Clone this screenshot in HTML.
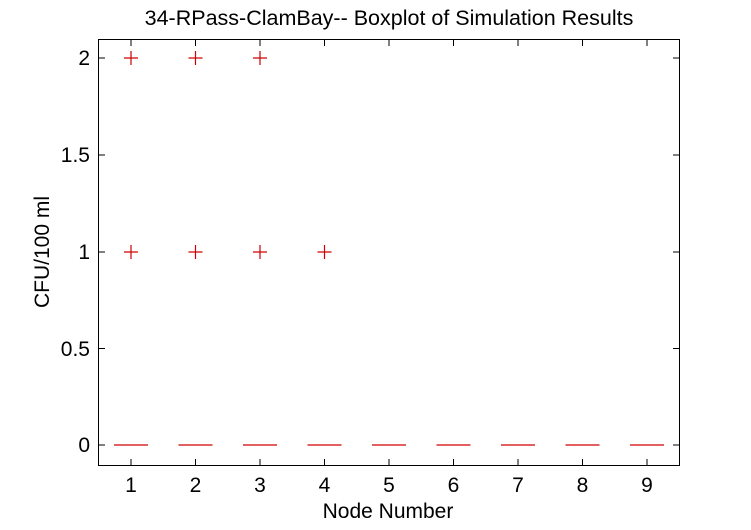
<!DOCTYPE html>
<html><head><style>body{margin:0;background:#fff}</style></head><body>
<svg width="751" height="525" xmlns="http://www.w3.org/2000/svg" font-family="Liberation Sans, sans-serif">
<rect width="751" height="525" fill="#fff"/>
<text x="389" y="25" font-size="21.5" text-anchor="middle">34-RPass-ClamBay-- Boxplot of Simulation Results</text>
<rect x="98.5" y="39.5" width="581" height="426" fill="none" stroke="#000"/>
<g stroke="#000">
<line x1="131" y1="465" x2="131" y2="459"/><line x1="131" y1="40" x2="131" y2="46"/>
<line x1="195.5" y1="465" x2="195.5" y2="459"/><line x1="195.5" y1="40" x2="195.5" y2="46"/>
<line x1="260" y1="465" x2="260" y2="459"/><line x1="260" y1="40" x2="260" y2="46"/>
<line x1="324.5" y1="465" x2="324.5" y2="459"/><line x1="324.5" y1="40" x2="324.5" y2="46"/>
<line x1="389" y1="465" x2="389" y2="459"/><line x1="389" y1="40" x2="389" y2="46"/>
<line x1="453.5" y1="465" x2="453.5" y2="459"/><line x1="453.5" y1="40" x2="453.5" y2="46"/>
<line x1="518" y1="465" x2="518" y2="459"/><line x1="518" y1="40" x2="518" y2="46"/>
<line x1="582.5" y1="465" x2="582.5" y2="459"/><line x1="582.5" y1="40" x2="582.5" y2="46"/>
<line x1="647" y1="465" x2="647" y2="459"/><line x1="647" y1="40" x2="647" y2="46"/>
<line x1="99" y1="445" x2="105" y2="445"/><line x1="679" y1="445" x2="673" y2="445"/>
<line x1="99" y1="348.5" x2="105" y2="348.5"/><line x1="679" y1="348.5" x2="673" y2="348.5"/>
<line x1="99" y1="252" x2="105" y2="252"/><line x1="679" y1="252" x2="673" y2="252"/>
<line x1="99" y1="155" x2="105" y2="155"/><line x1="679" y1="155" x2="673" y2="155"/>
<line x1="99" y1="58" x2="105" y2="58"/><line x1="679" y1="58" x2="673" y2="58"/>
</g>
<g font-size="21" text-anchor="middle">
<text x="131" y="492">1</text><text x="195.5" y="492">2</text><text x="260" y="492">3</text>
<text x="324.5" y="492">4</text><text x="389" y="492">5</text><text x="453.5" y="492">6</text>
<text x="518" y="492">7</text><text x="582.5" y="492">8</text><text x="647" y="492">9</text>
<text x="388" y="518">Node Number</text>
</g>
<g font-size="21" text-anchor="end">
<text x="90" y="452">0</text><text x="90" y="356">0.5</text><text x="90" y="259">1</text>
<text x="90" y="162">1.5</text><text x="90" y="65">2</text>
</g>
<text transform="translate(49 252) rotate(-90)" font-size="21" text-anchor="middle">CFU/100 ml</text>
<g stroke="#d00000" stroke-width="1.2">
<line x1="114" y1="445" x2="148" y2="445"/><line x1="178.5" y1="445" x2="212.5" y2="445"/>
<line x1="243" y1="445" x2="277" y2="445"/><line x1="307.5" y1="445" x2="341.5" y2="445"/>
<line x1="372" y1="445" x2="406" y2="445"/><line x1="436.5" y1="445" x2="470.5" y2="445"/>
<line x1="501" y1="445" x2="535" y2="445"/><line x1="565.5" y1="445" x2="599.5" y2="445"/>
<line x1="630" y1="445" x2="664" y2="445"/>
<path d="M124 58h14M131 51v14M188.5 58h14M195.5 51v14M253 58h14M260 51v14
M124 252h14M131 245v14M188.5 252h14M195.5 245v14M253 252h14M260 245v14M317.5 252h14M324.5 245v14" fill="none"/>
</g>
</svg>
</body></html>
